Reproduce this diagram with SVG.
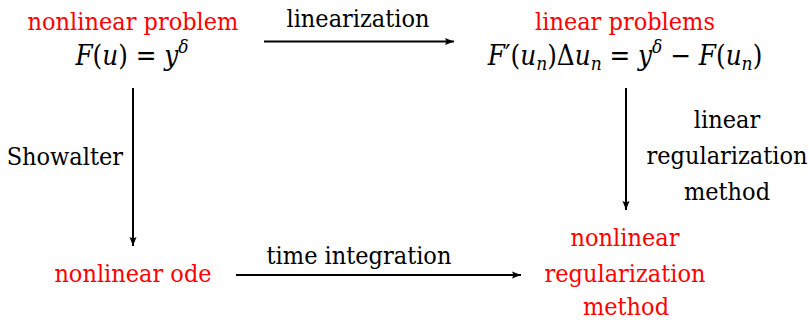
<svg xmlns="http://www.w3.org/2000/svg" width="809" height="320" viewBox="0 0 809 320">
<defs>
<marker id="ah" markerUnits="userSpaceOnUse" markerWidth="10" markerHeight="8" refX="9" refY="4" orient="auto">
<path d="M0,0.5 L9,4 L0,7.5 L1.5,4 Z" fill="#000"/>
</marker>
<style>
text{font-family:"DejaVu Serif Condensed","DejaVu Serif",serif;font-stretch:condensed;font-size:25px;text-anchor:middle;fill:#000}
.red{fill:#ff0000}
.m{font-size:27.5px}
.i{font-style:italic}
.s{font-size:19px}
.c{stroke:#000;stroke-width:2;fill:none;marker-end:url(#ah)}
</style>
</defs>
<rect width="809" height="320" fill="#fff"/>
<g id="connectors">
<line class="c" x1="264" y1="41.5" x2="454" y2="41.5"/>
<line class="c" x1="133" y1="88" x2="133" y2="246"/>
<line class="c" x1="626" y1="88" x2="626" y2="210"/>
<line class="c" x1="236" y1="275" x2="521" y2="275"/>
<text x="358" y="27">linearization</text>
<text x="123" y="165" style="text-anchor:end">Showalter</text>
<text x="727" y="128">linear</text>
<text x="727" y="164">regularization</text>
<text x="727" y="200">method</text>
<text x="359" y="264">time integration</text>
</g>
<g id="node-nonlinear-problem">
<text class="red" x="133" y="30">nonlinear problem</text>
<text class="m" x="132" y="65"><tspan class="i">F</tspan>(<tspan class="i">u</tspan>) = <tspan class="i">y</tspan><tspan class="i s" dy="-12">δ</tspan></text>
</g>
<g id="node-linear-problems">
<text class="red" x="625" y="30">linear problems</text>
<text class="m" x="625" y="65"><tspan class="i">F</tspan>′(<tspan class="i">u</tspan><tspan class="i s" dy="5">n</tspan><tspan dy="-5">)Δ</tspan><tspan class="i">u</tspan><tspan class="i s" dy="5">n</tspan><tspan dy="-5"> = </tspan><tspan class="i">y</tspan><tspan class="i s" dy="-12">δ</tspan><tspan dy="12"> − </tspan><tspan class="i">F</tspan>(<tspan class="i">u</tspan><tspan class="i s" dy="5">n</tspan><tspan dy="-5">)</tspan></text>
</g>
<g id="node-nonlinear-ode">
<text class="red" x="133" y="282">nonlinear ode</text>
</g>
<g id="node-nonlinear-regularization">
<text class="red" x="625" y="246">nonlinear</text>
<text class="red" x="625" y="282">regularization</text>
<text class="red" x="626" y="315">method</text>
</g>
</svg>
